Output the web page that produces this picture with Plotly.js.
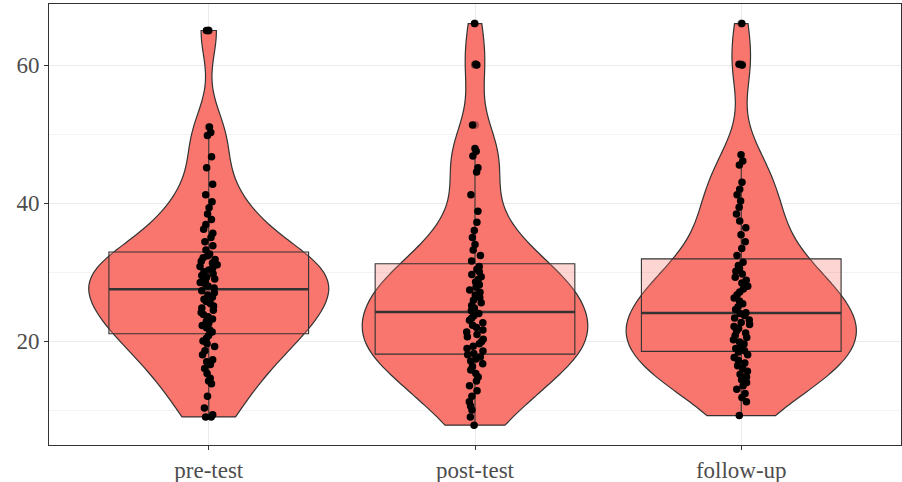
<!DOCTYPE html>
<html><head><meta charset="utf-8">
<script src="https://cdn.plot.ly/plotly-3.0.1.min.js"></script>
<style>html,body{margin:0;padding:0;background:#fff}</style>
</head><body><div id="chart" style="width:902px;height:482px"></div>
<script>
const categories = ['pre-test', 'post-test', 'follow-up'];

const preTest = [9.0, 9.0, 9.3, 10.3, 12.0, 13.8, 14.2, 14.6, 15.3, 16.0, 16.6, 17.0, 17.3, 18.0, 18.6, 19.2, 19.6, 20.0, 20.4, 20.8,
  21.3, 21.62, 21.93, 22.25, 22.56, 22.88, 23.2, 23.51, 23.83, 24.14, 24.46, 24.78, 25.09, 25.41, 25.72, 26.04, 26.36, 26.67, 26.99, 27.3,
  27.7, 27.96, 28.22, 28.47, 28.73, 28.99, 29.25, 29.51, 29.76, 30.02, 30.28, 30.54, 30.79, 31.05, 31.31, 31.57, 31.83, 32.08, 32.34, 32.6,
  33.2, 33.8, 34.4, 35.0, 35.6, 36.2, 36.9, 37.6, 38.4, 39.3, 40.2, 41.2, 42.7, 45.1, 46.7, 49.8, 50.2, 51.0, 65.0, 65.0];

const postTest = [7.8, 9.0, 10.0, 10.6, 11.2, 12.0, 12.8, 13.5, 14.2, 14.8, 15.3, 15.8, 16.3, 16.7, 17.1, 17.4, 17.7, 18.0,
  18.2, 18.55, 18.9, 19.25, 19.6, 19.9, 20.25, 20.6, 20.95, 21.3, 21.6, 21.95, 22.3, 22.65, 23.0, 23.3, 23.65, 24.0,
  24.4, 24.8, 25.15, 25.55, 25.9, 26.3, 26.65, 27.05, 27.4, 27.8, 28.15, 28.55, 28.9, 29.3, 29.65, 30.05, 30.4, 30.8,
  31.6, 32.4, 33.2, 34.0, 35.0, 36.0, 37.2, 38.8, 41.2, 44.5, 45.1, 46.8, 47.5, 47.9, 51.3, 60.0, 60.1, 66.0];

const followUp = [9.2, 11.2, 11.8, 12.4, 13.0, 13.5, 14.0, 14.4, 14.8, 15.2, 15.6, 16.0, 16.4, 16.8, 17.2, 17.6, 18.0, 18.4,
  18.6, 18.9, 19.25, 19.55, 19.85, 20.2, 20.5, 20.8, 21.15, 21.45, 21.8, 22.1, 22.4, 22.7, 23.05, 23.35, 23.7, 24.0,
  24.1, 24.55, 24.95, 25.4, 25.8, 26.25, 26.7, 27.1, 27.55, 27.95, 28.4, 28.8, 29.25, 29.7, 30.1, 30.55, 30.95, 31.4,
  32.4, 33.4, 34.4, 35.4, 36.4, 37.4, 38.4, 39.4, 40.3, 41.2, 42.0, 43.0, 45.5, 46.1, 47.0, 60.0, 60.1, 66.0];

const series = [preTest, postTest, followUp];
const xs = [], ys = [];
series.forEach((s, i) => s.forEach(v => { xs.push(categories[i]); ys.push(v); }));

function quantile(arr, p) {
  const a = [...arr].sort((x, y) => x - y);
  const h = (a.length - 1) * p, lo = Math.floor(h);
  const hi = Math.min(lo + 1, a.length - 1);
  return a[lo] + (h - lo) * (a[hi] - a[lo]);
}
const medians = series.map(s => quantile(s, 0.5));

const fill = '#F8766D';
const ink = '#333333';

const traces = [
  {
    type: 'violin', x: xs, y: ys, spanmode: 'hard', width: 0.9,
    fillcolor: fill, line: {color: ink, width: 1.2},
    points: false, box: {visible: false}, meanline: {visible: false},
    scalemode: 'width', hoverinfo: 'skip', showlegend: false
  },
  {
    type: 'box', x: xs, y: ys, width: 0.75,
    fillcolor: 'rgba(248,118,109,0.3)', line: {color: ink, width: 1.1},
    whiskerwidth: 0, boxpoints: 'outliers', pointpos: 0, jitter: 0,
    marker: {color: 'rgba(0,0,0,0.3)', size: 8, line: {width: 0}},
    hoverinfo: 'skip', showlegend: false
  },
  {
    type: 'box', x: categories, q1: medians, median: medians, q3: medians,
    lowerfence: medians, upperfence: medians, width: 0.75,
    fillcolor: 'rgba(0,0,0,0)', line: {color: ink, width: 2.4},
    whiskerwidth: 0, boxpoints: false, hoverinfo: 'skip', showlegend: false
  },
  {
    type: 'box', x: xs, y: ys, width: 0.75,
    fillcolor: 'rgba(0,0,0,0)', line: {color: 'rgba(0,0,0,0)', width: 0},
    boxpoints: 'all', jitter: 0.09, pointpos: 0,
    marker: {color: '#000000', size: 7.5, line: {width: 0}},
    hoverinfo: 'skip', showlegend: false
  }
];

const layout = {
  width: 902, height: 482,
  margin: {l: 49, r: 1, t: 4, b: 37},
  paper_bgcolor: '#ffffff', plot_bgcolor: '#ffffff',
  showlegend: false, boxmode: 'overlay', violinmode: 'overlay',
  font: {family: '"Liberation Serif", "DejaVu Serif", serif', size: 23, color: '#4D4D4D'},
  xaxis: {
    type: 'category', categoryorder: 'array', categoryarray: categories,
    range: [-0.6, 2.6], showgrid: true, gridcolor: '#EBEBEB', gridwidth: 1,
    zeroline: false, showline: true, mirror: true, linecolor: ink, linewidth: 1,
    ticks: 'outside', ticklen: 4, tickcolor: ink, tickwidth: 1
  },
  yaxis: {
    range: [4.93, 68.84], tick0: 0, dtick: 20,
    showgrid: true, gridcolor: '#EBEBEB', gridwidth: 1,
    minor: {tick0: 0, dtick: 10, showgrid: true, gridcolor: '#F0F0F0', gridwidth: 0.8, ticks: ''},
    zeroline: false, showline: true, mirror: true, linecolor: ink, linewidth: 1,
    ticks: 'outside', ticklen: 4, tickcolor: ink, tickwidth: 1
  }
};

Plotly.newPlot('chart', traces, layout, {displayModeBar: false, staticPlot: true});
</script>
</body></html>
